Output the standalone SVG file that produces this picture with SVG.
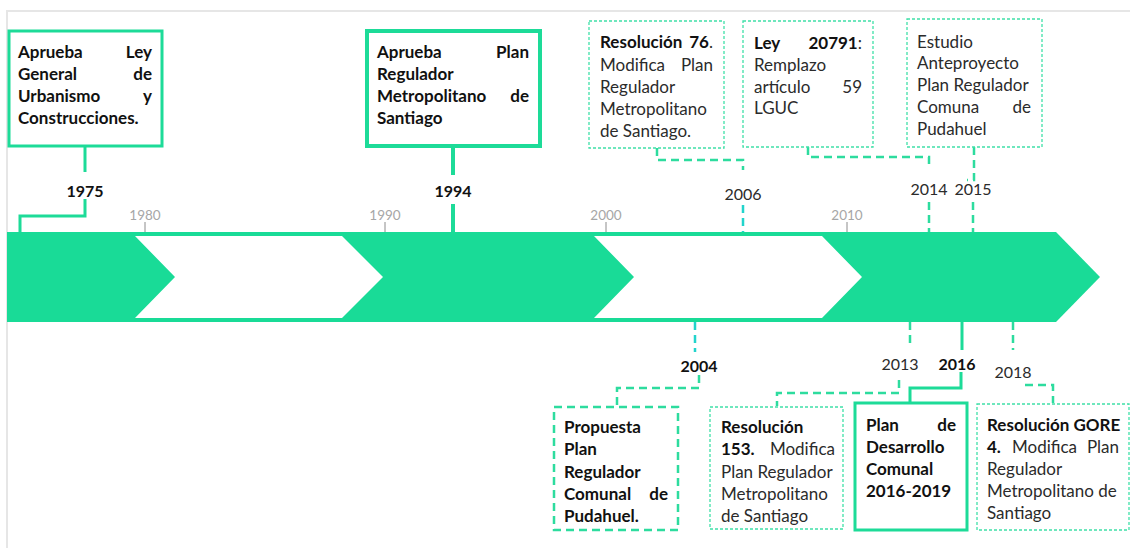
<svg xmlns="http://www.w3.org/2000/svg" width="1130" height="548" viewBox="0 0 1130 548">
<style>
.solid{fill:none;stroke:#1ddb98;stroke-width:3}
.solid4{fill:none;stroke:#1ddb98;stroke-width:4}
.dash{fill:none;stroke:#2ddc9e;stroke-width:2.5;stroke-dasharray:8 5}
.dashc{fill:none;stroke:#22d4cc;stroke-width:2.5;stroke-dasharray:8 5}
.thin{fill:none;stroke:#3fe0a8;stroke-width:1.3;stroke-dasharray:3 2}
.box{fill:#fff}
text{font-family:Lato,"Liberation Sans",sans-serif;font-size:17px;fill:#2b2b2b}
.b{font-weight:bold;fill:#111}
.e{text-anchor:end}
.m{text-anchor:middle}
.y{font-size:16px}
.yr{font-size:13.5px;fill:#a6a6a6;text-anchor:middle}
.tick{stroke:#8c8c8c;stroke-width:1}
</style>
<rect width="1130" height="548" fill="#fff"/>
<path d="M7,548 V11 H1130" fill="none" stroke="#e6e6e6" stroke-width="2"/>

<g id="timeline">
<path d="M7,232 L1056,232 L1100,277 L1056,322 L7,322 Z" fill="#19db97"/>
<path d="M135,236 L342,236 L383,277 L342,318 L135,318 L175,277 Z" fill="#fff"/>
<path d="M594,236 L822,236 L862,277 L822,318 L594,318 L634,277 Z" fill="#fff"/>
<line class="tick" x1="145" y1="222" x2="145" y2="232"/>
<line class="tick" x1="385" y1="222" x2="385" y2="232"/>
<line class="tick" x1="606" y1="222" x2="606" y2="232"/>
<line class="tick" x1="847" y1="222" x2="847" y2="232"/>
<text class="yr" x="145" y="220">1980</text>
<text class="yr" x="385" y="220">1990</text>
<text class="yr" x="606" y="220">2000</text>
<text class="yr" x="847" y="220">2010</text>
</g>

<g id="connectors">
<path class="solid" d="M85,146 V172"/>
<path class="solid" d="M85,199 V216 H20 V232"/>
<path class="solid4" d="M453,146 V175"/>
<path class="solid4" d="M453,204 V232"/>
<path class="dash" d="M657,148 V160 H743 V170"/>
<path class="dashc" d="M743,205 V232"/>
<path class="dash" d="M808,147 V157 H929 V168"/>
<path class="dash" d="M929,202 V232"/>
<path class="dash" d="M974,147 V180 H967"/>
<path class="dash" d="M973,202 V232"/>
<path class="dashc" d="M695,322 V352"/>
<path class="dash" d="M699,375 V388 H617 V406"/>
<path class="dash" d="M910,322 V343"/>
<path class="dash" d="M899,380 V393 H777 V406"/>
<path class="solid" d="M962,322 V350"/>
<path class="solid" d="M961,372 V388 H910 V403"/>
<path class="dash" d="M1013,322 V350"/>
<path class="dash" d="M1025,385 H1053 V403"/>
</g>

<g id="n1975">
<rect class="solid box" x="9" y="31" width="153" height="115"/>
<text class="b" x="18" y="58">Aprueba</text><text class="b e" x="152" y="58">Ley</text>
<text class="b" x="18" y="80">General</text><text class="b e" x="152" y="80">de</text>
<text class="b" x="18" y="102">Urbanismo</text><text class="b e" x="152" y="102">y</text>
<text class="b" x="18" y="124">Construcciones.</text>
<text class="b m y" x="85" y="197">1975</text>
</g>

<g id="n1994">
<rect class="solid4 box" x="367" y="31" width="173" height="115"/>
<text class="b" x="377" y="58">Aprueba</text><text class="b e" x="529" y="58">Plan</text>
<text class="b" x="377" y="80">Regulador</text>
<text class="b" x="377" y="102">Metropolitano</text><text class="b e" x="529" y="102">de</text>
<text class="b" x="377" y="124">Santiago</text>
<text class="b m y" x="453" y="197">1994</text>
</g>

<g id="n2006">
<rect class="thin box" x="589" y="21" width="135" height="127"/>
<text class="b" x="600" y="48">Resolución</text><text class="e" x="713" y="48"><tspan class="b">76</tspan>.</text>
<text x="600" y="71">Modifica</text><text class="e" x="713" y="71">Plan</text>
<text x="600" y="93">Regulador</text>
<text x="600" y="115">Metropolitano</text>
<text x="600" y="137">de Santiago.</text>
<text class="m y" x="743" y="200">2006</text>
</g>

<g id="n2014">
<rect class="thin box" x="743" y="21" width="130" height="126"/>
<text class="b" x="754" y="49">Ley</text><text class="e" x="862" y="49"><tspan class="b">20791</tspan>:</text>
<text x="754" y="71">Remplazo</text>
<text x="754" y="93">artículo</text><text class="e" x="862" y="93">59</text>
<text x="754" y="114">LGUC</text>
<text class="m y" x="929" y="195">2014</text>
</g>

<g id="n2015">
<rect class="thin box" x="907" y="19" width="135" height="128"/>
<text x="917" y="48">Estudio</text>
<text x="917" y="69">Anteproyecto</text>
<text x="917" y="91">Plan Regulador</text>
<text x="917" y="113">Comuna</text><text class="e" x="1031" y="113">de</text>
<text x="917" y="135">Pudahuel</text>
<text class="m y" x="973" y="195">2015</text>
</g>

<g id="n2004">
<rect class="dash box" x="554" y="407" width="124" height="123"/>
<text class="b" x="564" y="433">Propuesta</text>
<text class="b" x="564" y="455">Plan</text>
<text class="b" x="564" y="478">Regulador</text>
<text class="b" x="564" y="500">Comunal</text><text class="b e" x="668" y="500">de</text>
<text class="b" x="564" y="522">Pudahuel.</text>
<text class="b m y" x="699" y="372">2004</text>
</g>

<g id="n2013">
<rect class="thin box" x="710" y="407" width="133" height="122"/>
<text class="b" x="721" y="433">Resolución</text>
<text class="b" x="721" y="455">153.</text><text class="e" x="835" y="455">Modifica</text>
<text x="721" y="478">Plan Regulador</text>
<text x="721" y="500">Metropolitano</text>
<text x="721" y="522">de Santiago</text>
<text class="m y" x="900" y="370">2013</text>
</g>

<g id="n2016">
<rect class="solid box" x="855" y="403" width="112" height="127"/>
<text class="b" x="866" y="431">Plan</text><text class="b e" x="956" y="431">de</text>
<text class="b" x="866" y="453">Desarrollo</text>
<text class="b" x="866" y="475">Comunal</text>
<text class="b" x="866" y="497">2016-2019</text>
<text class="b m y" x="957" y="370">2016</text>
</g>

<g id="n2018">
<rect class="thin box" x="977" y="404" width="152" height="126"/>
<text class="b" x="987" y="431">Resolución GORE</text>
<text class="b" x="987" y="453">4.</text><text x="1012" y="453">Modifica</text><text class="e" x="1119" y="453">Plan</text>
<text x="987" y="475">Regulador</text>
<text x="987" y="497">Metropolitano de</text>
<text x="987" y="519">Santiago</text>
<text class="m y" x="1013" y="378">2018</text>
</g>
</svg>
